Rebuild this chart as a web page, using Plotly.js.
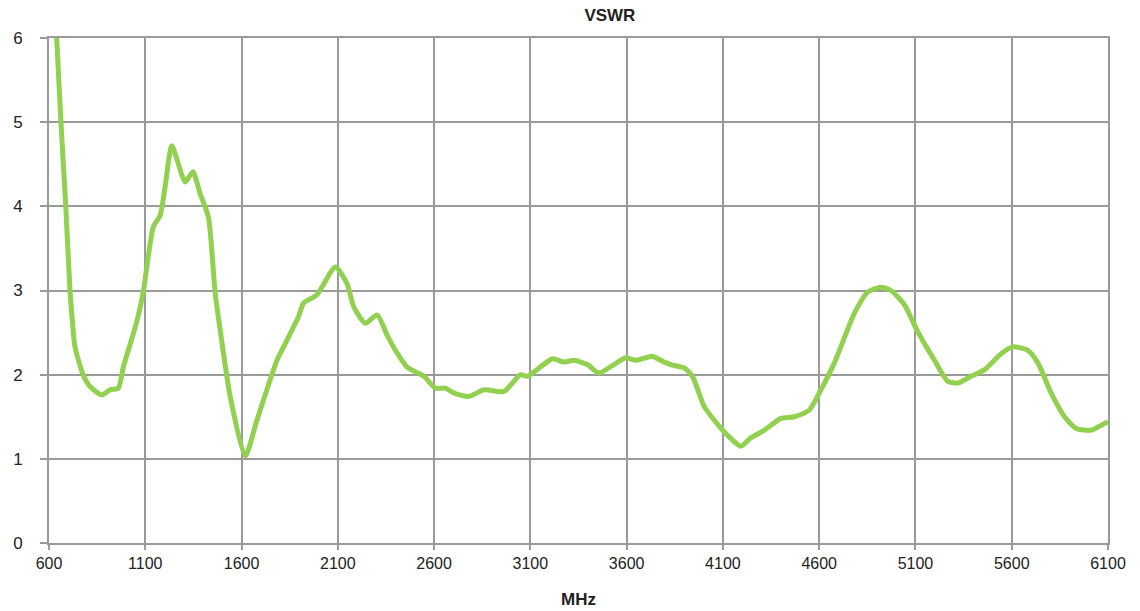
<!DOCTYPE html>
<html>
<head>
<meta charset="utf-8">
<script src="https://cdn.plot.ly/plotly-3.0.1.min.js"></script>
<style>html,body{margin:0;padding:0;background:#fff;}#chart{width:1140px;height:611px;}</style>
</head>
<body>
<div id="chart"></div>
<script>
const freqMHz = [630, 640, 662, 687, 709, 718, 735, 777, 813, 874, 917, 960, 986, 1056, 1091, 1108, 1142, 1177, 1203, 1238, 1307, 1347, 1385, 1428, 1463, 1489, 1541, 1619, 1680, 1784, 1836, 1896, 1922, 1992, 2087, 2148, 2182, 2243, 2304, 2356, 2399, 2460, 2547, 2607, 2659, 2703, 2781, 2859, 2963, 3049, 3084, 3214, 3274, 3326, 3396, 3456, 3534, 3595, 3647, 3734, 3777, 3829, 3899, 3942, 4003, 4055, 4124, 4193, 4245, 4315, 4401, 4471, 4549, 4609, 4679, 4783, 4852, 4921, 4973, 5043, 5112, 5199, 5268, 5320, 5389, 5459, 5545, 5606, 5684, 5736, 5805, 5874, 5935, 6013, 6065, 6100];
const vswr = [6.45, 6.0, 5.0, 4.0, 3.0, 2.73, 2.33, 2.0, 1.86, 1.76, 1.82, 1.84, 2.09, 2.63, 3.0, 3.28, 3.76, 3.89, 4.23, 4.72, 4.29, 4.41, 4.15, 3.87, 2.97, 2.53, 1.74, 1.03, 1.46, 2.17, 2.41, 2.69, 2.85, 2.95, 3.28, 3.08, 2.81, 2.61, 2.71, 2.47, 2.29, 2.09, 1.98, 1.84, 1.84, 1.78, 1.74, 1.82, 1.80, 2.0, 1.98, 2.19, 2.15, 2.17, 2.12, 2.02, 2.12, 2.20, 2.17, 2.22, 2.17, 2.12, 2.08, 1.98, 1.62, 1.46, 1.28, 1.15, 1.25, 1.34, 1.48, 1.50, 1.58, 1.82, 2.14, 2.73, 2.98, 3.04, 3.00, 2.83, 2.51, 2.17, 1.92, 1.90, 1.98, 2.06, 2.25, 2.33, 2.29, 2.14, 1.78, 1.50, 1.36, 1.34, 1.40, 1.44];
const xTicks = [600, 1100, 1600, 2100, 2600, 3100, 3600, 4100, 4600, 5100, 5600, 6100];
const yTicks = [0, 1, 2, 3, 4, 5, 6];

const gridColor = '#9a9a9a';
const fontFam = 'Liberation Sans, Arial, sans-serif';

Plotly.newPlot('chart', [{
  x: freqMHz,
  y: vswr,
  type: 'scatter',
  mode: 'lines',
  line: {color: '#92D050', width: 5, shape: 'spline', smoothing: 0.6},
  hoverinfo: 'x+y'
}], {
  width: 1140,
  height: 611,
  margin: {l: 49, r: 32, t: 38, b: 68},
  paper_bgcolor: '#fff',
  plot_bgcolor: '#fff',
  showlegend: false,
  title: {text: '<b>VSWR</b>', x: 0.535, xanchor: 'center', y: 0.975, yanchor: 'middle',
          font: {family: fontFam, size: 17, color: '#222'}},
  xaxis: {
    range: [600, 6100], tickvals: xTicks, ticktext: xTicks.map(String),
    showgrid: true, gridcolor: gridColor, gridwidth: 2,
    showline: true, linecolor: gridColor, linewidth: 2, mirror: true,
    ticks: 'outside', ticklen: 5, tickcolor: gridColor, tickwidth: 2,
    zeroline: false,
    tickfont: {family: fontFam, size: 16, color: '#222'},
    title: {text: '<b>MHz</b>', standoff: 22, font: {family: fontFam, size: 17, color: '#222'}}
  },
  yaxis: {
    range: [0, 6], tickvals: yTicks, ticktext: yTicks.map(String),
    showgrid: true, gridcolor: gridColor, gridwidth: 2,
    showline: true, linecolor: gridColor, linewidth: 2, mirror: true,
    ticks: 'outside', ticklen: 7, tickcolor: gridColor, tickwidth: 2,
    ticklabelstandoff: 14,
    zeroline: false,
    tickfont: {family: fontFam, size: 17, color: '#222'}
  }
}, {displayModeBar: false, staticPlot: true});
</script>
</body>
</html>
